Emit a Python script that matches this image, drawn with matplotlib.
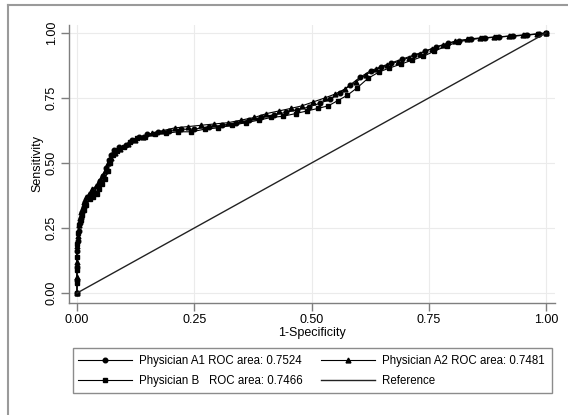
"""ROC curves for three physicians, Stata-like look."""
import matplotlib

matplotlib.use("Agg")
import matplotlib.pyplot as plt
from matplotlib.lines import Line2D
from matplotlib.patches import Rectangle

plt.rcParams["font.family"] = ["Liberation Sans", "DejaVu Sans"]

# 1-specificity / sensitivity
a1_fpr = [0, 0, 0, 0, 0.002, 0.004, 0.006, 0.008, 0.010, 0.014, 0.018, 0.024, 0.030, 0.036,
          0.044, 0.050, 0.056, 0.062, 0.068, 0.072, 0.078, 0.090, 0.104, 0.118, 0.132, 0.150,
          0.172, 0.196, 0.222, 0.250, 0.282, 0.310, 0.340, 0.366, 0.392, 0.420, 0.446, 0.470,
          0.494, 0.518, 0.540, 0.560, 0.582, 0.604, 0.626, 0.648, 0.670, 0.694, 0.718, 0.742,
          0.766, 0.790, 0.814, 0.840, 0.870, 0.900, 0.930, 0.960, 0.985, 1.0]
a1_tpr = [0, 0.05, 0.10, 0.16, 0.20, 0.24, 0.27, 0.29, 0.31, 0.33, 0.35, 0.37, 0.38, 0.39,
          0.41, 0.43, 0.45, 0.48, 0.51, 0.53, 0.55, 0.56, 0.57, 0.59, 0.60, 0.61, 0.62, 0.625,
          0.63, 0.63, 0.64, 0.645, 0.655, 0.665, 0.675, 0.685, 0.695, 0.705, 0.715, 0.73,
          0.745, 0.77, 0.80, 0.83, 0.855, 0.87, 0.885, 0.90, 0.915, 0.93, 0.945, 0.96, 0.97,
          0.978, 0.982, 0.985, 0.988, 0.992, 0.996, 1.0]

a2_fpr = [0, 0, 0, 0, 0.002, 0.004, 0.006, 0.009, 0.012, 0.016, 0.020, 0.026, 0.032, 0.040,
          0.048, 0.054, 0.060, 0.066, 0.072, 0.080, 0.092, 0.108, 0.124, 0.140, 0.160, 0.184,
          0.208, 0.236, 0.264, 0.292, 0.322, 0.350, 0.378, 0.404, 0.430, 0.456, 0.480, 0.504,
          0.528, 0.550, 0.572, 0.594, 0.616, 0.638, 0.660, 0.684, 0.708, 0.732, 0.756, 0.780,
          0.806, 0.832, 0.860, 0.890, 0.920, 0.950, 0.980, 1.0]
a2_tpr = [0, 0.06, 0.12, 0.18, 0.22, 0.26, 0.29, 0.31, 0.33, 0.35, 0.37, 0.38, 0.40, 0.41,
          0.43, 0.45, 0.47, 0.50, 0.52, 0.54, 0.555, 0.575, 0.59, 0.60, 0.615, 0.625, 0.635,
          0.64, 0.645, 0.65, 0.655, 0.665, 0.675, 0.69, 0.70, 0.71, 0.72, 0.735, 0.75, 0.765,
          0.785, 0.81, 0.84, 0.86, 0.875, 0.89, 0.905, 0.92, 0.94, 0.955, 0.968, 0.975, 0.98,
          0.984, 0.988, 0.992, 0.996, 1.0]

b_fpr = [0, 0, 0, 0, 0.001, 0.003, 0.005, 0.008, 0.011, 0.015, 0.020, 0.028, 0.034, 0.042,
         0.048, 0.054, 0.060, 0.066, 0.070, 0.076, 0.086, 0.100, 0.114, 0.128, 0.146, 0.166,
         0.190, 0.216, 0.244, 0.272, 0.300, 0.330, 0.360, 0.388, 0.414, 0.440, 0.466, 0.490,
         0.514, 0.536, 0.556, 0.576, 0.598, 0.620, 0.644, 0.666, 0.690, 0.714, 0.738, 0.762,
         0.788, 0.812, 0.838, 0.866, 0.896, 0.926, 0.956, 0.982, 1.0]
b_tpr = [0, 0.04, 0.09, 0.14, 0.19, 0.23, 0.26, 0.28, 0.30, 0.32, 0.34, 0.36, 0.37, 0.38,
         0.40, 0.42, 0.44, 0.47, 0.50, 0.53, 0.545, 0.56, 0.58, 0.595, 0.60, 0.61, 0.615,
         0.62, 0.62, 0.63, 0.635, 0.645, 0.655, 0.665, 0.675, 0.68, 0.69, 0.70, 0.71, 0.72,
         0.74, 0.76, 0.79, 0.825, 0.85, 0.865, 0.88, 0.895, 0.91, 0.93, 0.95, 0.965, 0.975,
         0.98, 0.984, 0.988, 0.992, 0.996, 1.0]

ref_x = [0, 1]
ref_y = [0, 1]

ticks = [0.0, 0.25, 0.5, 0.75, 1.0]
tick_labels = ["0.00", "0.25", "0.50", "0.75", "1.00"]

W, H = 568, 415
fig = plt.figure(figsize=(W / 100, H / 100), dpi=100)
ax = fig.add_axes([0.1215, 0.27, 0.8555, 0.67])

h_a1, = ax.plot(a1_fpr, a1_tpr, color="black", lw=0.8, marker="o", ms=3.3,
                label="Physician A1 ROC area: 0.7524")
h_a2, = ax.plot(a2_fpr, a2_tpr, color="black", lw=0.8, marker="^", ms=3.5,
                label="Physician A2 ROC area: 0.7481")
h_b, = ax.plot(b_fpr, b_tpr, color="black", lw=0.8, marker="s", ms=3.3,
               label="Physician B   ROC area: 0.7466")
h_ref, = ax.plot(ref_x, ref_y, color="#222222", lw=1.0, label="Reference")

ax.set_xlim(-0.017, 1.019)
ax.set_ylim(-0.038, 1.031)
ax.set_xticks(ticks)
ax.set_xticklabels(tick_labels)
ax.set_yticks(ticks)
ax.set_yticklabels(tick_labels, rotation=90, va="center")
ax.tick_params(labelsize=9, length=6, width=1, color="#7f7f7f", pad=2)
ax.grid(True, color="#ebebeb", lw=0.8)
ax.set_axisbelow(True)
for side in ("top", "right"):
    ax.spines[side].set_visible(False)
for side in ("left", "bottom"):
    ax.spines[side].set_color("#7f7f7f")
    ax.spines[side].set_linewidth(1.0)
ax.set_xlabel("1-Specificity", fontsize=9, labelpad=1)
ax.set_ylabel("Sensitivity", fontsize=9, labelpad=2)

# legend entries without frame; the box is drawn separately (it is wider than the entries)
fig.legend(handles=[h_a1, h_b, h_a2, h_ref], ncol=2, fontsize=8.3,
           loc="upper left", bbox_to_anchor=(78 / W, 1 - 355 / H),
           frameon=False, handlelength=4.7, handletextpad=0.6, columnspacing=1.6,
           borderaxespad=0, borderpad=0, labelspacing=0.72)
fig.add_artist(Rectangle((73 / W, 1 - 393 / H), (552 - 73) / W, 45 / H,
                         transform=fig.transFigure, fill=False,
                         edgecolor="#8c8c8c", lw=1.0))

# grey frame along top and left edges (cropped screenshot border)
fig.add_artist(Line2D([8 / W, 8 / W], [0.0, 1 - 5 / H], transform=fig.transFigure,
                      color="#9a9a9a", lw=1.5))
fig.add_artist(Line2D([8 / W, 1.0], [1 - 5 / H, 1 - 5 / H], transform=fig.transFigure,
                      color="#9a9a9a", lw=1.5))

fig.savefig("out.png", dpi=100)
